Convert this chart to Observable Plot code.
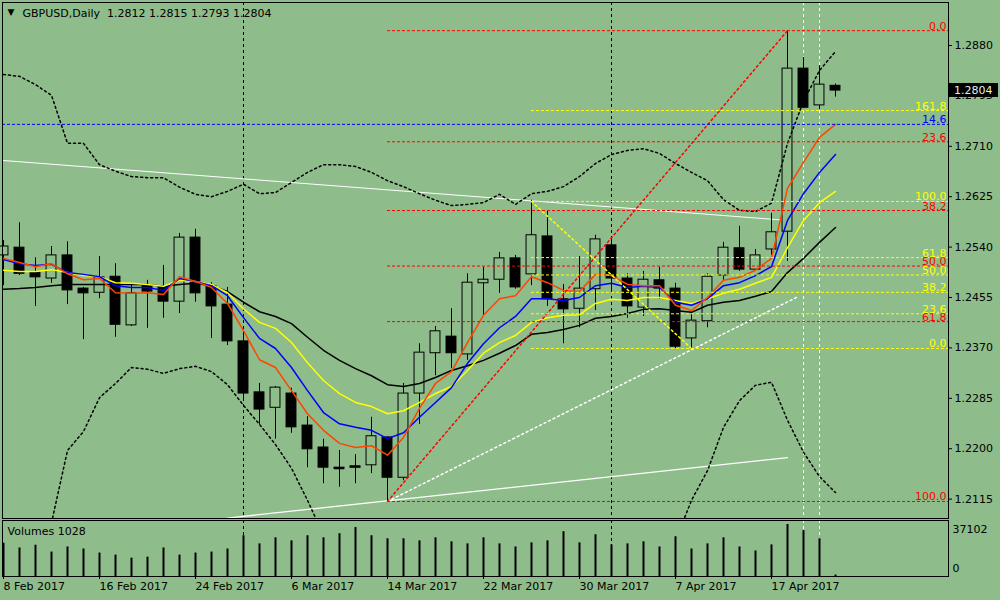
<!DOCTYPE html>
<html><head><meta charset="utf-8">
<script src="https://cdn.jsdelivr.net/npm/d3@7"></script>
<script src="https://cdn.jsdelivr.net/npm/@observablehq/plot@0.6"></script>
<style>
html,body{margin:0;padding:0;background:#8FBC8B;}
#chart{position:relative;width:1000px;height:600px;background:#8FBC8B;overflow:hidden;font-family:"DejaVu Sans",sans-serif;}
#chart svg{position:absolute;left:0;overflow:visible;}
</style></head>
<body><div id="chart"></div>
<script>
const BG = "#8FBC8B";
const symbol = "GBPUSD", period = "Daily";
const dates = ["2017-02-08","2017-02-09","2017-02-10","2017-02-13","2017-02-14","2017-02-15","2017-02-16","2017-02-17","2017-02-20","2017-02-21","2017-02-22","2017-02-23","2017-02-24","2017-02-27","2017-02-28",
"2017-03-01","2017-03-02","2017-03-03","2017-03-06","2017-03-07","2017-03-08","2017-03-09","2017-03-10","2017-03-13","2017-03-14","2017-03-15","2017-03-16","2017-03-17","2017-03-20","2017-03-21","2017-03-22","2017-03-23","2017-03-24","2017-03-27","2017-03-28","2017-03-29","2017-03-30","2017-03-31",
"2017-04-03","2017-04-04","2017-04-05","2017-04-06","2017-04-07","2017-04-10","2017-04-11","2017-04-12","2017-04-13","2017-04-14","2017-04-17","2017-04-18","2017-04-19","2017-04-20","2017-04-21"];
const open = [1.2526,1.2539,1.2497,1.2487,1.2526,1.2470,1.2463,1.2490,1.2408,1.2475,1.2474,1.2448,1.2556,1.2474,1.2443,1.2381,1.2295,1.2269,1.2293,1.2239,1.2202,1.2168,1.2168,1.2172,1.2219,1.2151,1.2293,1.2361,1.2389,1.2359,1.2479,1.2485,1.2521,1.2494,1.2558,1.2452,1.2436,1.2469,1.2543,1.2487,1.2438,1.2484,1.2470,1.2386,1.2415,1.2492,1.2538,1.2502,1.2536,1.2566,1.2841,1.2779,1.2812];
const high = [1.2551,1.2581,1.2522,1.2541,1.2549,1.2472,1.2524,1.2512,1.2479,1.2484,1.2509,1.2563,1.2570,1.2480,1.2472,1.2399,1.2310,1.2305,1.2302,1.2254,1.2216,1.2197,1.2190,1.2253,1.2220,1.2310,1.2377,1.2406,1.2436,1.2495,1.2506,1.2531,1.2526,1.2619,1.2600,1.2477,1.2524,1.2560,1.2556,1.2495,1.2499,1.2506,1.2479,1.2430,1.2495,1.2548,1.2575,1.2536,1.2597,1.2905,1.2860,1.2846,1.2815];
const low = [1.2475,1.2492,1.2440,1.2479,1.2443,1.2384,1.2453,1.2388,1.2406,1.2403,1.2420,1.2428,1.2447,1.2386,1.2374,1.2281,1.2241,1.2216,1.2226,1.2168,1.2141,1.2135,1.2141,1.2158,1.2111,1.2146,1.2241,1.2323,1.2335,1.2349,1.2423,1.2462,1.2469,1.2475,1.2440,1.2377,1.2404,1.2433,1.2467,1.2420,1.2423,1.2452,1.2369,1.2366,1.2404,1.2484,1.2499,1.2499,1.2526,1.2516,1.2774,1.2772,1.2793];
const close = [1.2541,1.2495,1.2489,1.2526,1.2467,1.2462,1.2489,1.2409,1.2462,1.2465,1.2448,1.2556,1.2462,1.2440,1.2381,1.2293,1.2266,1.2303,1.2236,1.2199,1.2168,1.2167,1.2170,1.2221,1.2151,1.2293,1.2362,1.2398,1.2361,1.2480,1.2485,1.2521,1.2472,1.2560,1.2452,1.2435,1.2470,1.2553,1.2487,1.2440,1.2485,1.2470,1.2372,1.2416,1.2490,1.2539,1.2502,1.2526,1.2565,1.2841,1.2775,1.2814,1.2804];
const volume = [23770,20360,22320,17450,21080,19630,16720,15270,13090,13810,20360,15270,16720,17450,19630,29080,23260,27630,25450,29080,27630,30530,34900,29080,26900,26900,25450,27630,24720,23260,27630,23260,21080,23990,25450,31990,23990,29810,22540,23260,24720,21080,28350,19630,23260,27630,21080,18180,22540,37102,32720,26900,1028];
const maRed = [1.2521,1.2514,1.2507,1.2512,1.2495,1.2485,1.2487,1.2463,1.2462,1.2463,1.2460,1.2490,1.2482,1.2472,1.2445,1.2399,1.2350,1.2337,1.2298,1.2259,1.2231,1.2209,1.2202,1.2205,1.2189,1.2219,1.2268,1.2310,1.2330,1.2379,1.2425,1.2453,1.2458,1.2490,1.2480,1.2467,1.2465,1.2494,1.2492,1.2477,1.2475,1.2475,1.2442,1.2433,1.2455,1.2484,1.2489,1.2501,1.2521,1.2639,1.2683,1.2725,1.2747];
const maBlue = [1.2519,1.2512,1.2509,1.2511,1.2497,1.2494,1.2490,1.2475,1.2472,1.2472,1.2467,1.2487,1.2482,1.2475,1.2458,1.2421,1.2386,1.2369,1.2337,1.2298,1.2261,1.2242,1.2236,1.2231,1.2217,1.2227,1.2253,1.2278,1.2303,1.2344,1.2377,1.2404,1.2423,1.2453,1.2453,1.2450,1.2455,1.2475,1.2479,1.2472,1.2474,1.2472,1.2447,1.2442,1.2453,1.2475,1.2480,1.2492,1.2507,1.2585,1.2630,1.2666,1.2696];
const maYellow = [1.2501,1.2499,1.2499,1.2502,1.2497,1.2492,1.2490,1.2480,1.2479,1.2477,1.2474,1.2484,1.2482,1.2477,1.2463,1.2436,1.2413,1.2403,1.2379,1.2345,1.2315,1.2293,1.2278,1.2271,1.2259,1.2264,1.2278,1.2293,1.2305,1.2332,1.2361,1.2379,1.2391,1.2413,1.2421,1.2425,1.2426,1.2445,1.2452,1.2450,1.2455,1.2455,1.2450,1.2445,1.2453,1.2462,1.2469,1.2479,1.2489,1.2539,1.2585,1.2615,1.2634];
const maBlack = [1.2469,1.2470,1.2472,1.2475,1.2477,1.2477,1.2477,1.2477,1.2477,1.2477,1.2474,1.2477,1.2479,1.2475,1.2465,1.2447,1.2431,1.2423,1.2411,1.2388,1.2366,1.2349,1.2335,1.2323,1.2308,1.2305,1.2310,1.2320,1.2332,1.2340,1.2349,1.2361,1.2374,1.2393,1.2396,1.2401,1.2408,1.2420,1.2423,1.2428,1.2435,1.2436,1.2433,1.2430,1.2442,1.2447,1.2450,1.2457,1.2465,1.2497,1.2521,1.2548,1.2573];
const bbUpper = [1.2831,1.2828,1.2814,1.2796,1.2715,1.2715,1.2679,1.2668,1.2659,1.2657,1.2657,1.2641,1.2629,1.2625,1.2634,1.2646,1.2630,1.2632,1.2649,1.2666,1.2679,1.2679,1.2676,1.2666,1.2652,1.2642,1.2630,1.2619,1.2610,1.2612,1.2615,1.2629,1.2612,1.2630,1.2634,1.2642,1.2659,1.2681,1.2696,1.2703,1.2706,1.2698,1.2681,1.2666,1.2652,1.2620,1.2602,1.2600,1.2614,1.2715,1.2786,1.2838,1.2870];
const bbLower = [null,null,null,1.2075,1.2197,1.2229,1.2286,1.2310,1.2337,1.2334,1.2327,1.2335,1.2339,1.2330,1.2308,1.2273,1.2241,1.2207,1.2167,1.2113,1.2054,
null,null,null,null,null,null,null,null,null,null,null,null,null,null,null,null,null,null,null,null,null,
1.2045,1.2113,1.2163,1.2236,1.2281,1.2307,1.2312,1.2248,1.2194,1.2153,1.2126];

const yTicks = [1.2115,1.2200,1.2285,1.2370,1.2455,1.2540,1.2625,1.2710,1.2795,1.2880];
const xTickDates = ["2017-02-08","2017-02-16","2017-02-24","2017-03-06","2017-03-14","2017-03-22","2017-03-30","2017-04-07","2017-04-17"];
const xTickLabels = ["8 Feb 2017","16 Feb 2017","24 Feb 2017","6 Mar 2017","14 Mar 2017","22 Mar 2017","30 Mar 2017","7 Apr 2017","17 Apr 2017"];

// chart objects (anchored at bar dates and prices)
const redFibAnchor = {fromDate:"2017-03-14", fromPrice:1.2111, toDate:"2017-04-18", toPrice:1.2905};
const redFibLevels = [0, 23.6, 38.2, 50, 61.8, 100];
const yellowFibAnchor = {fromDate:"2017-03-27", fromPrice:1.2617, toDate:"2017-04-10", toPrice:1.2369};
const yellowFibLevels = [0, 23.6, 38.2, 50, 61.8, 100, 161.8];
const blueLevel = {level:14.6, price:1.2747};
const vLinesBlack = ["2017-03-01","2017-04-03"];
const vLinesWhite = ["2017-04-19","2017-04-20"];
const whiteTopLine = [{d:"2017-02-08", p:1.2686},{d:"2017-04-18", p:1.2585}];
const whiteBottomLine = [{d:"2017-02-28", p:1.2083},{d:"2017-04-18", p:1.2185}];
const whiteDashLine = [{d:"2017-03-14", p:1.2111},{d:"2017-04-18", off:0.7, p:1.2457}];
const redDiag = [{d:"2017-03-14", p:1.2111},{d:"2017-04-18", p:1.2905}];
const yellowDiag = [{d:"2017-03-27", p:1.2617},{d:"2017-04-10", p:1.2369}];

const idx = d => dates.indexOf(d);
const bars = dates.map((d,i) => ({i, date:d, o:open[i], h:high[i], l:low[i], c:close[i], v:volume[i],
  red:maRed[i], blue:maBlue[i], yellow:maYellow[i], black:maBlack[i], bbU:bbUpper[i], bbL:bbLower[i]}));
const bull = bars.filter(b => b.c >= b.o), bear = bars.filter(b => b.c < b.o);
const doji = bars.filter(b => Math.abs(b.c - b.o) < 0.00025);
const last = bars[bars.length-1];
const pts = arr => arr.map(p => ({x: idx(p.d) + (p.off||0), y: p.p}));

const rFrom = idx(redFibAnchor.fromDate);
const redFib = redFibLevels.map(l => ({level:l, price: redFibAnchor.toPrice + (redFibAnchor.fromPrice - redFibAnchor.toPrice)*l/100}));
const yFrom = idx(yellowFibAnchor.fromDate);
const yellowFib = yellowFibLevels.map(l => ({level:l, price: yellowFibAnchor.toPrice + (yellowFibAnchor.fromPrice - yellowFibAnchor.toPrice)*l/100}));

const X_DOMAIN = [-0.0625, 59.0625];
const Y_DOMAIN = [1.208228, 1.295252];
const FONT = "DejaVu Sans";
const f4 = d3.format(".4f");

function priceBox(index, scales, values, dims) {
  const y = scales.y(last.c);
  const x = dims.width - dims.marginRight;
  const g = d3.create("svg:g");
  g.append("rect").attr("x", x).attr("y", Math.round(y) - 7).attr("width", 50).attr("height", 14).attr("fill", "black");
  g.append("text").attr("x", x + 6).attr("y", y).attr("dy", "0.36em").attr("fill", "#e4eee4")
    .attr("text-anchor", "start").attr("font-family", FONT).attr("font-size", 11).text(f4(last.c));
  return g.node();
}

const title = `${symbol},${period}\u00A0 ${f4(last.o)} ${f4(last.h)} ${f4(last.l)} ${f4(last.c)}`;

const price = Plot.plot({
  width: 1000, height: 519, marginTop: 2, marginBottom: 1, marginLeft: 2, marginRight: 52,
  style: {background: "transparent", fontFamily: FONT, fontSize: "11px", color: "black"},
  x: {domain: X_DOMAIN, axis: null, label: null},
  y: {domain: Y_DOMAIN, axis: null, label: null},
  marks: [
    Plot.ruleX(vLinesBlack.map(idx), {stroke: "black", strokeDasharray: "3,3"}),
    Plot.ruleX(vLinesWhite.map(idx), {stroke: "white", strokeDasharray: "3,3"}),
    Plot.line(pts(whiteTopLine), {x: "x", y: "y", stroke: "white", strokeWidth: 1, clip: true}),
    Plot.line(pts(whiteBottomLine), {x: "x", y: "y", stroke: "white", strokeWidth: 1.3, clip: true}),
    Plot.ruleX(bars, {x: "i", y1: "l", y2: "h", stroke: "black"}),
    Plot.rect(bull, {x1: d => d.i - 0.31, x2: d => d.i + 0.31, y1: "o", y2: "c", fill: BG, stroke: "black"}),
    Plot.rect(bear, {x1: d => d.i - 0.31, x2: d => d.i + 0.31, y1: "o", y2: "c", fill: "black", stroke: "black"}),
    Plot.ruleY(doji, {y: "c", x1: d => d.i - 0.33, x2: d => d.i + 0.33, stroke: "black", strokeWidth: 2}),
    Plot.line(bars, {x: "i", y: "black", stroke: "black"}),
    Plot.line(bars, {x: "i", y: "yellow", stroke: "#FFFF00"}),
    Plot.line(bars, {x: "i", y: "blue", stroke: "#0000FF"}),
    Plot.line(bars, {x: "i", y: "red", stroke: "#FF4500"}),
    Plot.line(bars, {x: "i", y: "bbU", stroke: "black", strokeDasharray: "2,3", clip: true}),
    Plot.line(bars, {x: "i", y: "bbL", stroke: "black", strokeDasharray: "2,3", clip: true}),
    Plot.line(pts(whiteDashLine), {x: "x", y: "y", stroke: "white", strokeDasharray: "2,3", clip: true}),
    Plot.line(pts(redDiag), {x: "x", y: "y", stroke: "#FF0000", strokeDasharray: "2,3", clip: true}),
    Plot.line(pts(yellowDiag), {x: "x", y: "y", stroke: "#FFFF00", strokeDasharray: "2,3", clip: true}),
    Plot.ruleY([blueLevel], {y: "price", stroke: "#0000FF", strokeDasharray: "3,2"}),
    Plot.ruleY(yellowFib, {y: "price", x1: yFrom, x2: X_DOMAIN[1], stroke: "#FFFF00", strokeDasharray: "3,2"}),
    Plot.ruleY(redFib, {y: "price", x1: rFrom, x2: X_DOMAIN[1], stroke: "#FF0000", strokeDasharray: "3,2"}),
    Plot.text(yellowFib, {y: "price", text: d => d.level.toFixed(1), frameAnchor: "right", textAnchor: "end", lineAnchor: "bottom", dx: -2, dy: -1, fill: "#FFFF00", fontSize: 11, fontFamily: FONT}),
    Plot.text(redFib, {y: "price", text: d => d.level.toFixed(1), frameAnchor: "right", textAnchor: "end", lineAnchor: "bottom", dx: -2, dy: -1, fill: "#FF0000", fontSize: 11, fontFamily: FONT}),
    Plot.text([blueLevel], {y: "price", text: d => d.level.toFixed(1), frameAnchor: "right", textAnchor: "end", lineAnchor: "bottom", dx: -2, dy: -1, fill: "#0000FF", fontSize: 11, fontFamily: FONT}),
    Plot.frame({stroke: "black"}),
    Plot.axisY({anchor: "right", ticks: yTicks, tickFormat: f4, tickSize: 3, tickPadding: 3, fontSize: 11, fontFamily: FONT, label: null}),
    Plot.text(["\u25BC"], {frameAnchor: "top-left", dx: 5, dy: 10, textAnchor: "start", lineAnchor: "middle", fontSize: 9, fill: "black", fontFamily: FONT}),
    Plot.text([title], {frameAnchor: "top-left", dx: 20, dy: 11, textAnchor: "start", lineAnchor: "middle", fontSize: 11, fill: "black", fontFamily: FONT}),
    priceBox
  ]
});
price.style.top = "0px";

const VOL_TOP = 39956;
const vol = Plot.plot({
  width: 1000, height: 81, marginTop: 1, marginBottom: 24, marginLeft: 2, marginRight: 52,
  style: {background: "transparent", fontFamily: FONT, fontSize: "11px", color: "black"},
  x: {domain: X_DOMAIN, axis: null, label: null},
  y: {domain: [0, VOL_TOP], axis: null, label: null},
  marks: [
    Plot.ruleX(vLinesBlack.map(idx), {stroke: "black", strokeDasharray: "3,3"}),
    Plot.ruleX(vLinesWhite.map(idx), {stroke: "white", strokeDasharray: "3,3"}),
    Plot.ruleX(bars, {x: "i", y1: 0, y2: "v", stroke: "black", strokeWidth: 2}),
    Plot.frame({stroke: "black"}),
    Plot.axisX({anchor: "bottom", ticks: xTickDates.map(idx), tickFormat: i => xTickLabels[xTickDates.indexOf(dates[i])], tickSize: 3, tickPadding: 3, textAnchor: "start", fontSize: 11, fontFamily: FONT, label: null}),
    Plot.text([`Volumes ${last.v}`], {frameAnchor: "top-left", dx: 5, dy: 11, textAnchor: "start", lineAnchor: "middle", fontSize: 11, fill: "black", fontFamily: FONT}),
    Plot.text([String(d3.max(volume))], {frameAnchor: "top-right", dx: 4, dy: 9, textAnchor: "start", lineAnchor: "middle", fontSize: 11, fill: "black", fontFamily: FONT}),
    Plot.text(["0"], {frameAnchor: "bottom-right", dx: 4, dy: -8, textAnchor: "start", lineAnchor: "middle", fontSize: 11, fill: "black", fontFamily: FONT})
  ]
});
vol.style.top = "519px";

const root = document.getElementById("chart");
root.appendChild(price);
root.appendChild(vol);
</script>
</body></html>
